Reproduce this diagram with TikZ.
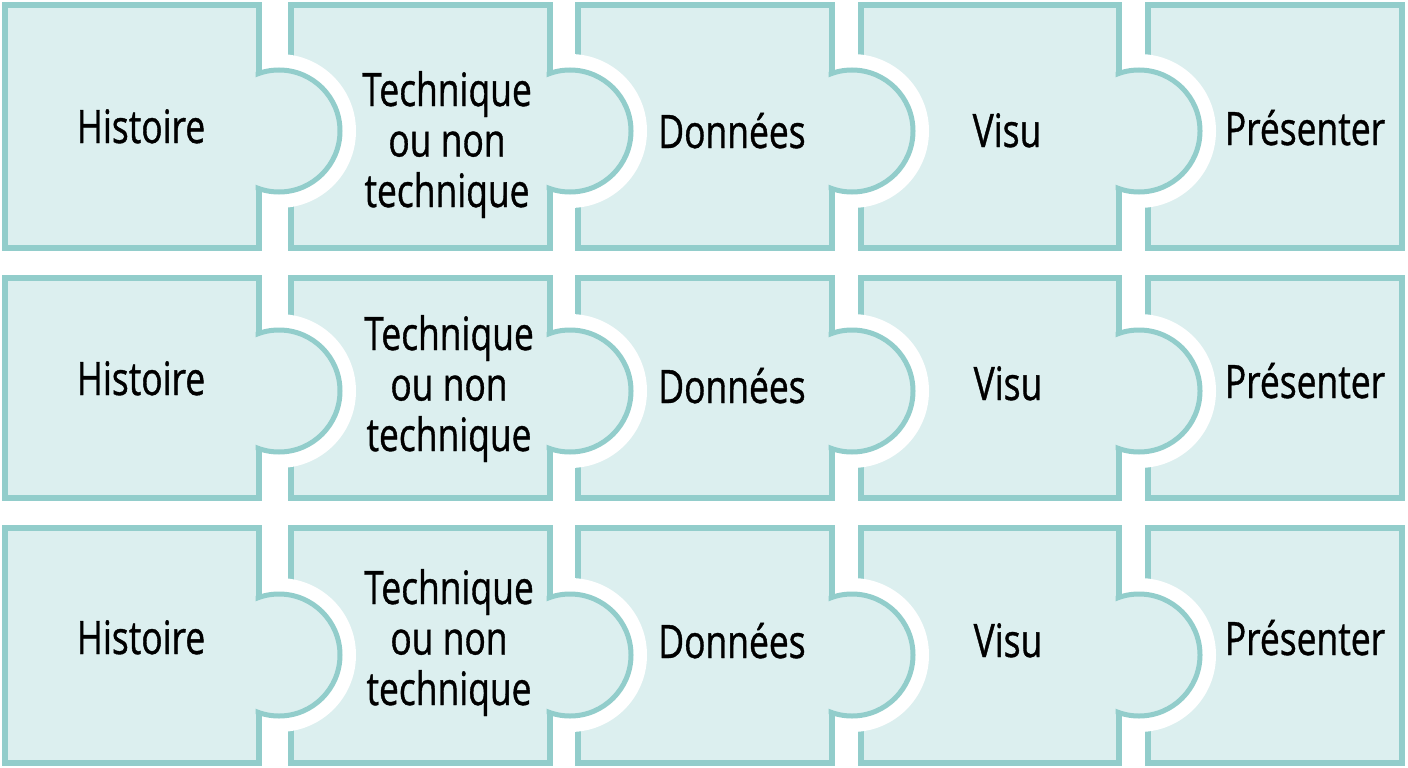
\documentclass[tikz,border=0pt]{standalone}
\usepackage{fontspec}
\setmainfont[FakeStretch=0.77,FakeBold=0.8]{Open Sans}
\definecolor{pfill}{HTML}{DCEFEF}
\definecolor{pline}{HTML}{92CDCB}
\begin{document}
\begin{tikzpicture}[x=1pt,y=-1pt,
  piece/.style={fill=pfill,draw=pline,line width=6pt},
  tabline/.style={draw=pline,line width=5pt},
  lbl/.style={font=\fontsize{46}{50.5}\selectfont, align=center, anchor=base, inner sep=0pt, text=black}]
\useasboundingbox (0,0) rectangle (1408,768);
\fill[white] (0,0) rectangle (1408,768);
% rows: top / bottom / tab centre
\foreach \top/\bot/\yc in {2/251/131, 275/501/391, 525/766/655}{
  \foreach \L/\R in {2/262, 288/553, 575/835, 858/1122, 1145/1405}{
    \draw[piece] ({\L+3},{\top+3}) rectangle ({\R-3},{\bot-3});
  }
  \foreach \R in {262,553,835,1122}{
    \begin{scope}
      \clip (\R,{\top-20}) rectangle ({\R+120},{\bot+20});
      \fill[white] ({\R+17},\yc) circle (77pt);
    \end{scope}
    \begin{scope}
      \clip ({\R-6.5},\top) rectangle ({\R+120},\bot);
      \fill[pfill] ({\R+17},\yc) circle (61pt);
      \draw[tabline] ({\R+17},\yc) circle (61pt);
    \end{scope}
  }
}
% row 1
\node[lbl] (h1) at (141,143) {Histoire};
\node[lbl] (t1) at (447,207) {Technique\\ou non\\technique};
\node[lbl] (d1) at (732,148) {Données};
\node[lbl] (v1) at (1007,147) {Visu};
\node[lbl] (p1) at (1305,145) {Présenter};
% row 2
\node[lbl] (h2) at (141,395) {Histoire};
\node[lbl] (t2) at (449,451) {Technique\\ou non\\technique};
\node[lbl] (d2) at (732,403) {Données};
\node[lbl] (v2) at (1008,400) {Visu};
\node[lbl] (p2) at (1305,398) {Présenter};
% row 3
\node[lbl] (h3) at (141,654) {Histoire};
\node[lbl] (t3) at (449,705) {Technique\\ou non\\technique};
\node[lbl] (d3) at (732,658) {Données};
\node[lbl] (v3) at (1008,657) {Visu};
\node[lbl] (p3) at (1305,655) {Présenter};
\end{tikzpicture}
\end{document}
